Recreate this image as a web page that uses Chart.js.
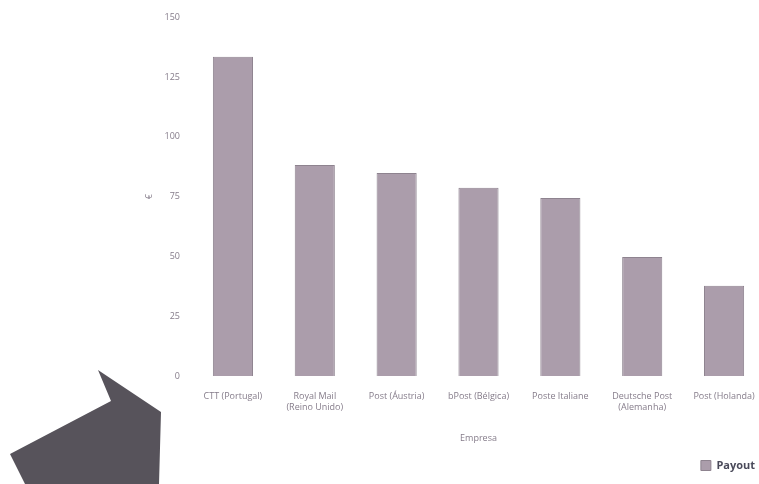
<!DOCTYPE html>
<html>
<head>
<meta charset="utf-8">
<script src="https://cdn.jsdelivr.net/npm/chart.js@4/dist/chart.umd.min.js"></script>
<style>
  html, body { margin: 0; padding: 0; background: #ffffff; overflow: hidden; width: 759px; height: 484px; }
  #wrap { position: relative; width: 780px; height: 484px; }
  #arrow { position: absolute; left: 0; top: 0; pointer-events: none; }
</style>
</head>
<body>
<div id="wrap">
  <canvas id="c" width="780" height="484"></canvas>
  <svg id="arrow" width="759" height="484" viewBox="0 0 759 484">
    <polygon points="98,370 161,412 159,484 25,484 10,454 111,401" fill="#57535b"/>
  </svg>
</div>
<script>
const categories = [
  "CTT (Portugal)",
  ["Royal Mail", "(Reino Unido)"],
  "Post (Áustria)",
  "bPost (Bélgica)",
  "Poste Italiane",
  ["Deutsche Post", "(Alemanha)"],
  "Post (Holanda)"
];
const payout = [133.5, 88.3, 84.9, 78.7, 74.5, 49.8, 37.7];
const seriesName = "Payout";
const yTicks = [0, 25, 50, 75, 100, 125, 150];
const xTitle = "Empresa";
const yTitle = "€";

const tickColor = "#857c8a";
const font = "'Open Sans', 'DejaVu Sans', sans-serif";

new Chart(document.getElementById("c"), {
  type: "bar",
  data: {
    labels: categories,
    datasets: [{
      label: seriesName,
      data: payout,
      backgroundColor: "#ab9dab",
      borderColor: "#8e838f",
      borderWidth: 1,
      categoryPercentage: 1.0,
      barPercentage: 0.49
    }]
  },
  options: {
    responsive: false,
    animation: false,
    layout: { padding: { left: 138, right: 15, top: 17, bottom: 3 } },
    plugins: {
      legend: {
        position: "bottom",
        align: "end",
        labels: {
          boxWidth: 10,
          boxHeight: 10,
          color: "#4a4a5a",
          font: { family: font, size: 11, weight: "bold" },
          padding: 10
        }
      },
      tooltip: { enabled: false }
    },
    scales: {
      x: {
        grid: { display: false, drawTicks: false },
        border: { display: false },
        ticks: {
          color: tickColor,
          font: { family: font, size: 9 },
          padding: 15,
          maxRotation: 0,
          autoSkip: false
        },
        title: {
          display: true,
          text: xTitle,
          color: tickColor,
          font: { family: font, size: 9 },
          padding: { top: 10, bottom: 6 }
        },
        afterFit: (s) => { s.height = 74; }
      },
      y: {
        min: 0,
        max: 150,
        grid: { display: false, drawTicks: false },
        border: { display: false },
        afterBuildTicks: (s) => { s.ticks = yTicks.map(v => ({ value: v })); },
        ticks: {
          color: tickColor,
          font: { family: font, size: 9 },
          padding: 12
        },
        title: {
          display: true,
          text: yTitle,
          color: tickColor,
          font: { family: font, size: 9 },
          padding: 6
        },
        afterFit: (s) => { s.width = 54; }
      }
    }
  }
});
</script>
</body>
</html>
